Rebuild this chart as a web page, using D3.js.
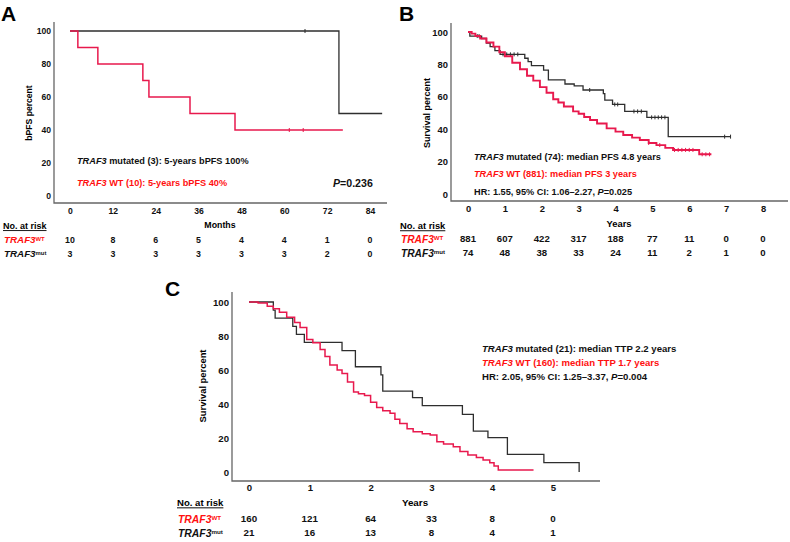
<!DOCTYPE html>
<html>
<head>
<meta charset="utf-8">
<script src="https://cdn.jsdelivr.net/npm/d3@7"></script>
<style>
  body { margin: 0; background: #fff; }
  svg { font-family: "Liberation Sans", Arial, sans-serif; }
</style>
</head>
<body>
<svg id="fig" width="790" height="542"></svg>
<script>
// shared
const yTicks = [0, 20, 40, 60, 80, 100];

// panel A (months)
const ticksA = [0, 12, 24, 36, 48, 60, 72, 84];
const riskA_wt = [10, 8, 6, 5, 4, 4, 1, 0];
const riskA_mut = [3, 3, 3, 3, 3, 3, 2, 0];
const kmA_wt = [[0, 100], [2.2, 90], [7.8, 80], [20.4, 70], [22.1, 60], [33.6, 50], [46.2, 40], [76.4, 40]];
const kmA_mut = [[0, 100], [75.3, 50], [87.4, 50]];
const censA_wt = [61.4, 65.3];
const censA_mut = [65.8];

// panel B (years)
const ticksB = [0, 1, 2, 3, 4, 5, 6, 7, 8];
const riskB_wt = [881, 607, 422, 317, 188, 77, 11, 0, 0];
const riskB_mut = [74, 48, 38, 33, 24, 11, 2, 1, 0];
const kmB_wt = [[0, 100], [0.1, 99], [0.2, 97.5], [0.33, 96], [0.5, 93.5], [0.69, 91], [0.85, 87.5],
  [1.0, 85], [1.2, 81], [1.41, 77], [1.6, 73], [1.77, 70], [1.95, 66], [2.13, 62.5], [2.31, 58.5],
  [2.45, 56.5], [2.6, 54], [2.85, 51], [3.0, 49.5], [3.15, 47.5], [3.31, 45.7], [3.5, 43.5],
  [3.76, 40.5], [4.0, 38.5], [4.21, 36.4], [4.45, 34.8], [4.66, 33.3], [4.9, 31.5], [5.11, 30.2],
  [5.35, 28.5], [5.56, 27.2], [6.27, 24.5], [6.6, 24.5]];
const kmB_mut = [[0, 100], [0.05, 97.5], [0.37, 96], [0.5, 93.2], [0.6, 91], [0.73, 88.5], [0.87, 86.2],
  [1.54, 83.8], [1.63, 81.7], [1.72, 79.3], [2.05, 76.5], [2.18, 70.4], [2.63, 67.9], [2.88, 66.7],
  [3.12, 64.2], [3.67, 62], [3.71, 58], [3.92, 55.3], [4.25, 51], [4.85, 47.3], [5.43, 35.4], [7.12, 35.4]];
const censB_wt = [4.9, 5.2, 5.6, 5.7, 5.8, 5.9, 6.0, 6.1, 6.35, 6.45, 6.55];
const censB_mut = [0.25, 0.3, 0.95, 1.05, 1.15, 1.25, 1.35, 3.3, 3.98, 4.06, 4.5, 4.6, 4.7,
  4.98, 5.07, 5.16, 5.25, 5.34, 6.96, 7.12];

// panel C (years)
const ticksC = [0, 1, 2, 3, 4, 5];
const riskC_wt = [160, 121, 64, 33, 8, 0];
const riskC_mut = [21, 16, 13, 8, 4, 1];
const kmC_wt = [[0, 100], [0.15, 99.4], [0.3, 97.5], [0.4, 96], [0.5, 94], [0.62, 91], [0.75, 88],
  [0.84, 85], [0.95, 78], [1.05, 76], [1.17, 72], [1.25, 68], [1.33, 63], [1.45, 60], [1.53, 58],
  [1.62, 53], [1.72, 47], [1.8, 46], [1.9, 45], [2.0, 41], [2.1, 38], [2.2, 36], [2.32, 34.5],
  [2.4, 31], [2.48, 28.6], [2.6, 25.5], [2.7, 23.7], [2.85, 22.5], [2.98, 21.8], [3.09, 17.8],
  [3.2, 16.5], [3.36, 14.9], [3.47, 12], [3.6, 10], [3.74, 8.6], [3.85, 7], [3.96, 5.5],
  [4.03, 3.5], [4.1, 1.2], [4.68, 1.2]];
const kmC_mut = [[0, 100], [0.4, 95.2], [0.43, 90.5], [0.72, 85.7], [0.78, 81], [0.91, 76.2],
  [1.53, 71.4], [1.75, 61.9], [2.17, 57.1], [2.2, 47.6], [2.69, 43.7], [2.85, 39], [3.51, 33.9],
  [3.69, 24.1], [3.93, 20.2], [4.25, 10.4], [4.85, 5.5], [5.43, 0]];

const RED_LINE = "#e8194d";
const RED_TEXT = "#ff1010";
const DARK = "#2e2e2e";
const AXIS = "#666";
const FONT = "Liberation Sans, Arial, sans-serif";

const svg = d3.select("#fig");

function survAt(km, t) {
  let s = km[0][1];
  km.forEach(d => { if (d[0] <= t) s = d[1]; });
  return s;
}

// one line of mixed italic / upright text
function rich(g, x, y, parts, o) {
  const t = g.append("text")
    .attr("x", x).attr("y", y).attr("dy", "0.35em")
    .attr("fill", o.color)
    .attr("text-anchor", o.anchor || "start")
    .style("font-size", o.size + "px")
    .style("font-weight", o.weight || "bold");
  parts.forEach(p => {
    t.append("tspan").style("font-style", p[1] ? "italic" : "normal").text(p[0]);
  });
  return t;
}

function panel(p) {
  const g = svg.append("g");
  const x = d3.scaleLinear().domain(p.xDomain).range(p.xRange);
  const y = d3.scaleLinear().domain([0, 100]).range(p.yRange);

  // panel letter
  g.append("text").attr("x", p.letterX).attr("y", p.letterY)
    .style("font-size", "21px").style("font-weight", "bold").text(p.letter);

  // axis frame (no tick marks)
  g.append("path")
    .attr("d", `M${p.frame.left},${p.frame.top}V${p.frame.bottom}H${p.frame.right}`)
    .attr("fill", "none").attr("stroke", AXIS).attr("stroke-width", 1.3);

  const yAx = g.append("g")
    .attr("transform", `translate(${p.frame.left - 3},0)`)
    .call(d3.axisLeft(y).tickValues(yTicks).tickSize(0).tickPadding(0).tickFormat(d3.format("d")));
  yAx.select(".domain").remove();
  yAx.selectAll("text").style("font-size", p.tickSize + "px").style("font-weight", "bold")
    .style("font-family", FONT).attr("fill", "#111");

  const xAx = g.append("g")
    .attr("transform", `translate(0,${p.xLabelY})`)
    .call(d3.axisBottom(x).tickValues(p.ticks).tickSize(0).tickPadding(0).tickFormat(d3.format("d")));
  xAx.select(".domain").remove();
  xAx.selectAll("text").attr("dy", "0.35em").attr("y", 0)
    .style("font-size", p.tickSize + "px").style("font-weight", "bold")
    .style("font-family", FONT).attr("fill", "#111");

  // axis titles
  g.append("text").attr("x", x(p.xDomain[0]) + p.xTitleDx).attr("y", p.xTitleY).attr("dy", "0.35em")
    .attr("text-anchor", "middle").style("font-size", p.titleSize + "px")
    .style("font-weight", "bold").text(p.xTitle);
  g.append("text")
    .attr("transform", `translate(${p.yTitleX},${p.yTitleY}) rotate(-90)`)
    .attr("dy", "0.35em").attr("text-anchor", "middle")
    .style("font-size", p.yTitleSize + "px").style("font-weight", "bold").text(p.yTitle);

  // curves
  const line = d3.line().x(d => x(d[0])).y(d => y(d[1])).curve(d3.curveStepAfter);
  [[p.kmMut, DARK, 1.3, p.censMut], [p.kmWt, RED_LINE, p.redWidth, p.censWt]].forEach(([km, col, w, cens]) => {
    g.append("path").datum(km).attr("d", line)
      .attr("fill", "none").attr("stroke", col).attr("stroke-width", w);
    g.selectAll(null).data(cens).enter().append("line")
      .attr("x1", d => x(d)).attr("x2", d => x(d))
      .attr("y1", d => y(survAt(km, d)) - 2).attr("y2", d => y(survAt(km, d)) + 2)
      .attr("stroke", col).attr("stroke-width", 1);
  });

  // annotations
  p.notes.forEach(n => rich(g, n.x, n.y, n.parts, n));

  // numbers at risk
  g.append("text").attr("x", p.riskX).attr("y", p.riskY[0]).attr("dy", "0.35em")
    .style("font-size", p.riskLabelSize + "px").style("font-weight", "bold")
    .style("text-decoration", "underline").text("No. at risk");
  [[RED_TEXT, "WT", p.riskWt, p.riskY[1]], ["#111", "mut", p.riskMut, p.riskY[2]]].forEach(([col, sup, vals, yy]) => {
    const t = g.append("text").attr("x", p.riskX + 1).attr("y", yy).attr("dy", "0.35em")
      .attr("fill", col).style("font-size", (p.riskLabelSize + 0.8) + "px")
      .style("font-weight", "bold").style("font-style", "italic");
    t.append("tspan").text("TRAF3");
    t.append("tspan").attr("dy", "-0.45em").style("font-size", "0.6em")
      .style("font-style", "normal").text(sup);
    g.selectAll(null).data(vals).enter().append("text")
      .attr("x", (d, i) => x(p.ticks[i])).attr("y", yy).attr("dy", "0.35em")
      .attr("text-anchor", "middle").attr("fill", "#111")
      .style("font-size", p.riskSize + "px").style("font-weight", "bold")
      .text(d => d);
  });
}

panel({
  letter: "A", letterX: 1, letterY: 21,
  xDomain: [0, 84], xRange: [70, 370], yRange: [196, 31],
  frame: { left: 54, top: 22, bottom: 203, right: 387 },
  ticks: ticksA, tickSize: 8.6, xLabelY: 211,
  xTitle: "Months", xTitleY: 225, xTitleDx: 150, titleSize: 8.8,
  yTitle: "bPFS percent", yTitleX: 29, yTitleY: 113, yTitleSize: 8.6,
  kmWt: kmA_wt, kmMut: kmA_mut, censWt: censA_wt, censMut: censA_mut, redWidth: 1.5,
  riskX: 3, riskY: [226, 240, 254], riskWt: riskA_wt, riskMut: riskA_mut,
  riskLabelSize: 9, riskSize: 8.8,
  notes: [
    { x: 77, y: 161, size: 9.2, color: "#111", parts: [["TRAF3", true], [" mutated (3): 5-years bPFS 100%", false]] },
    { x: 77, y: 183, size: 9.2, color: RED_TEXT, parts: [["TRAF3", true], [" WT (10): 5-years bPFS 40%", false]] },
    { x: 333, y: 183, size: 10.6, color: "#111", parts: [["P", true], ["=0.236", false]] }
  ]
});

panel({
  letter: "B", letterX: 399, letterY: 21,
  xDomain: [0, 8], xRange: [468, 763], yRange: [194, 32],
  frame: { left: 451, top: 23, bottom: 201, right: 788 },
  ticks: ticksB, tickSize: 9.4, xLabelY: 209,
  xTitle: "Years", xTitleY: 224, xTitleDx: 151, titleSize: 9.4,
  yTitle: "Survival percent", yTitleX: 427, yTitleY: 113, yTitleSize: 9,
  kmWt: kmB_wt, kmMut: kmB_mut, censWt: censB_wt, censMut: censB_mut, redWidth: 1.9,
  riskX: 400, riskY: [226, 239, 253], riskWt: riskB_wt, riskMut: riskB_mut,
  riskLabelSize: 9.4, riskSize: 9.6,
  notes: [
    { x: 474, y: 157, size: 9.2, color: "#111", parts: [["TRAF3", true], [" mutated (74): median PFS 4.8 years", false]] },
    { x: 474, y: 174, size: 9.2, color: RED_TEXT, parts: [["TRAF3", true], [" WT (881): median PFS 3 years", false]] },
    { x: 474, y: 192, size: 9.2, color: "#111", parts: [["HR: 1.55, 95% CI: 1.06–2.27, ", false], ["P", true], ["=0.025", false]] }
  ]
});

panel({
  letter: "C", letterX: 165, letterY: 296,
  xDomain: [0, 5.5], xRange: [249, 249 + 60.8 * 5.5], yRange: [472, 302],
  frame: { left: 232, top: 292, bottom: 481, right: 600 },
  ticks: ticksC, tickSize: 9.6, xLabelY: 488,
  xTitle: "Years", xTitleY: 503, xTitleDx: 166, titleSize: 9.8,
  yTitle: "Survival percent", yTitleX: 203, yTitleY: 386, yTitleSize: 9.4,
  kmWt: kmC_wt, kmMut: kmC_mut, censWt: [], censMut: [], redWidth: 1.5,
  riskX: 177, riskY: [503, 519, 533], riskWt: riskC_wt, riskMut: riskC_mut,
  riskLabelSize: 9.6, riskSize: 9.8,
  notes: [
    { x: 482, y: 349, size: 9.6, color: "#111", parts: [["TRAF3", true], [" mutated (21): median TTP 2.2 years", false]] },
    { x: 482, y: 363, size: 9.6, color: RED_TEXT, parts: [["TRAF3", true], [" WT (160): median TTP 1.7 years", false]] },
    { x: 482, y: 377, size: 9.6, color: "#111", parts: [["HR: 2.05, 95% CI: 1.25–3.37, ", false], ["P", true], ["=0.004", false]] }
  ]
});
</script>
</body>
</html>
